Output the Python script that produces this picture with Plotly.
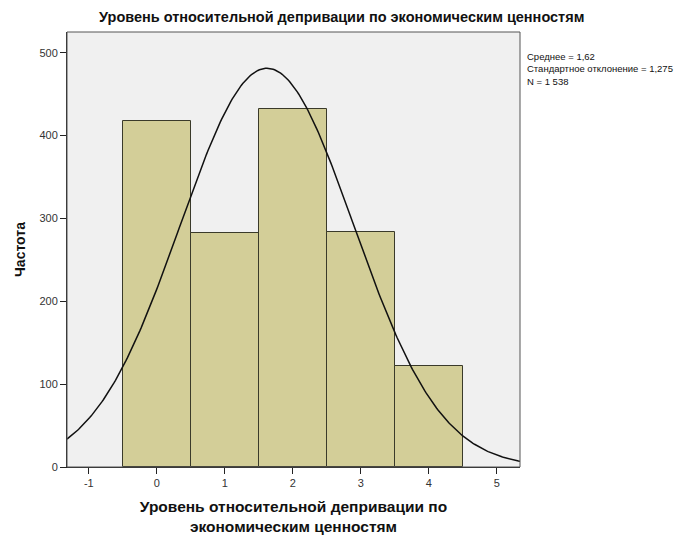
import numpy as np
import plotly.graph_objects as go

# Data
categories = [0, 1, 2, 3, 4]
frequencies = [418, 282, 432, 284, 122]
mean_value = 1.62
std_value = 1.275
n_total = 1538
x_ticks = [-1, 0, 1, 2, 3, 4, 5]
y_ticks = [0, 100, 200, 300, 400, 500]

x_range = [-1.32, 5.34]
y_range = [0, 525]

fig = go.Figure()
fig.add_trace(go.Bar(
    x=categories, y=frequencies, width=1.0,
    marker=dict(color="#d3ce98", line=dict(color="#3a3a2a", width=1)),
    hoverinfo="x+y", showlegend=False,
))

# Fitted normal curve from the stated mean, SD and N (bin width 1)
xs = np.linspace(x_range[0], x_range[1], 300)
ys = n_total * 1.0 / (std_value * np.sqrt(2 * np.pi)) * np.exp(-0.5 * ((xs - mean_value) / std_value) ** 2)
fig.add_trace(go.Scatter(x=xs, y=ys, mode="lines",
                         line=dict(color="#111111", width=1.5), showlegend=False))

fig.update_layout(
    width=677, height=527,
    margin=dict(l=59, r=165, t=24, b=68, autoexpand=False),
    paper_bgcolor="white", plot_bgcolor="#f0f0f0",
    font=dict(family="Arial, Liberation Sans, sans-serif", color="#222222"),
    title=dict(text="<b>Уровень относительной депривации по экономическим ценностям</b>",
               x=0.493, xanchor="center", y=0.984, yanchor="middle",
               font=dict(size=14.5, color="#111111")),
    bargap=0,
    xaxis=dict(range=x_range, tickvals=x_ticks, ticktext=[str(v) for v in x_ticks],
               ticks="outside", ticklen=6, tickcolor="#222222", tickwidth=1,
               showgrid=False, zeroline=False, automargin=False,
               showline=True, linecolor="#222222", linewidth=1, mirror=False,
               tickfont=dict(size=11, color="#333333"),
               title=dict(text="<b>Уровень относительной депривации по<br>экономическим ценностям</b>",
                          font=dict(size=15.5, color="#111111"), standoff=16)),
    yaxis=dict(range=y_range, tickvals=y_ticks, ticktext=[str(v) for v in y_ticks],
               ticks="outside", ticklen=6, tickcolor="#222222", tickwidth=1,
               showgrid=False, zeroline=False, automargin=False,
               showline=True, linecolor="#222222", linewidth=1,
               tickfont=dict(size=11, color="#333333"),
               title=dict(text="<b>Частота</b>", font=dict(size=14, color="#111111"), standoff=10)),
    shapes=[dict(type="rect", xref="paper", yref="paper", x0=0, y0=0, x1=1, y1=1,
                 line=dict(color="#555555", width=1), fillcolor="rgba(0,0,0,0)", layer="above")],
    annotations=[dict(
        xref="paper", yref="paper", x=1.012, y=0.96, xanchor="left", yanchor="top",
        align="left", showarrow=False,
        text="Среднее = 1,62<br>Стандартное отклонение = 1,275<br>N = 1 538",
        font=dict(size=9.5, color="#111111"))],
)

fig.write_html("out.html")
